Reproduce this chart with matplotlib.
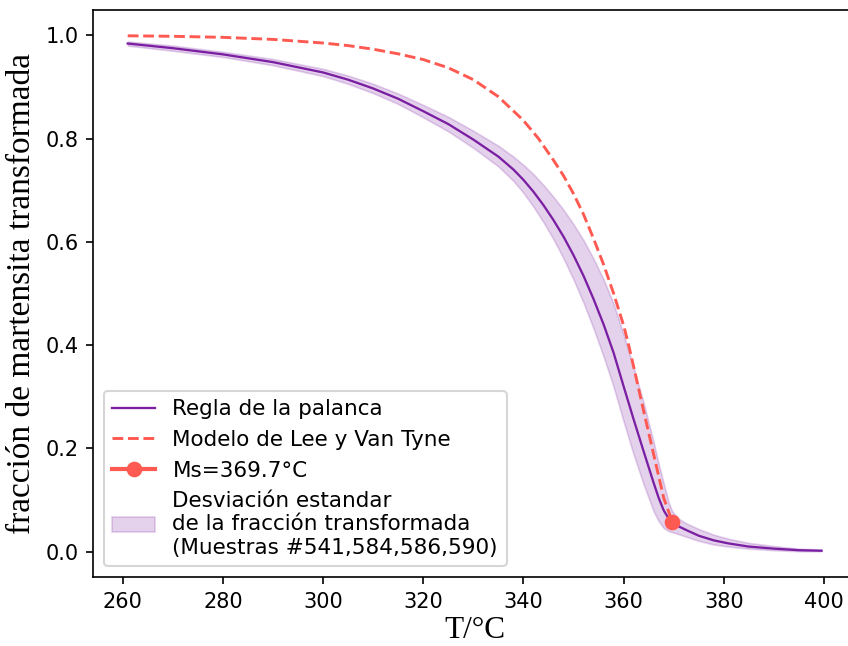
import matplotlib
matplotlib.use("Agg")
import matplotlib.pyplot as plt

# temperatura (°C) y fraccion transformada, regla de la palanca
temp = [261, 270, 280, 290, 300, 305, 310, 315, 320, 325, 330, 335, 338, 340,
        342, 344, 346, 348, 350, 352, 354, 356, 358, 360, 362, 364, 366, 367,
        368, 369, 369.7, 371, 372.5, 375, 378, 381, 385, 390, 395, 399.5]
regla = [0.984, 0.975, 0.963, 0.948, 0.928, 0.914, 0.897, 0.877, 0.853, 0.828,
         0.798, 0.765, 0.740, 0.720, 0.697, 0.671, 0.642, 0.610, 0.574, 0.534,
         0.489, 0.440, 0.385, 0.320, 0.256, 0.194, 0.133, 0.104, 0.080, 0.064,
         0.057, 0.049, 0.042, 0.031, 0.022, 0.016, 0.010, 0.006, 0.003, 0.002]
band_low = [0.980, 0.970, 0.958, 0.942, 0.921, 0.906, 0.888, 0.867, 0.841, 0.814,
            0.782, 0.746, 0.718, 0.695, 0.668, 0.638, 0.605, 0.568, 0.527, 0.482,
            0.432, 0.378, 0.319, 0.252, 0.188, 0.130, 0.078, 0.059, 0.046, 0.040,
            0.038, 0.034, 0.029, 0.021, 0.014, 0.010, 0.006, 0.003, 0.001, 0.001]
band_high = [0.988, 0.980, 0.968, 0.954, 0.935, 0.922, 0.906, 0.887, 0.865, 0.842,
             0.815, 0.786, 0.765, 0.749, 0.731, 0.710, 0.687, 0.662, 0.634, 0.603,
             0.567, 0.527, 0.480, 0.420, 0.356, 0.288, 0.211, 0.170, 0.132, 0.095,
             0.078, 0.064, 0.055, 0.044, 0.033, 0.025, 0.017, 0.011, 0.006, 0.004]

# modelo de Lee y Van Tyne
temp_lee = [261, 270, 280, 290, 300, 305, 310, 315, 320, 325, 330, 335, 340, 343,
            346, 348, 350, 352, 354, 356, 358, 360, 361, 362, 364, 366, 368, 369.7]
f_lee = [0.999, 0.998, 0.996, 0.992, 0.985, 0.980, 0.973, 0.964, 0.953, 0.937,
         0.914, 0.881, 0.835, 0.800, 0.758, 0.728, 0.693, 0.653, 0.606, 0.556,
         0.500, 0.438, 0.400, 0.358, 0.272, 0.188, 0.104, 0.058]

ms_temp = 369.7
ms_frac = 0.057

purple = '#7b1fa2'
red = '#ff5a52'

fig = plt.figure(figsize=(848 / 150, 646 / 150), dpi=150)
ax = fig.add_axes([0.1097, 0.1068, 0.900, 0.8777])

ax.plot(temp, regla, color=purple, lw=1.1, label='Regla de la palanca')
ax.plot(temp_lee, f_lee, '--', color=red, lw=1.4, label='Modelo de Lee y Van Tyne')
ax.plot([ms_temp], [ms_frac], 'o-', color=red, lw=2, ms=6.5, label='Ms=369.7°C')
ax.fill_between(temp, band_low, band_high, color=purple, alpha=0.2, lw=0.8,
                label='Desviación estandar\nde la fracción transformada\n(Muestras #541,584,586,590)')

ax.set_xlabel('T/°C', family='Liberation Serif', fontsize=15, labelpad=2)
ax.set_ylabel('fracción de martensita transformada', family='Liberation Serif', fontsize=16)
ax.legend(loc='lower left', fontsize=10.3)

fig.savefig('out.png', dpi=150)
